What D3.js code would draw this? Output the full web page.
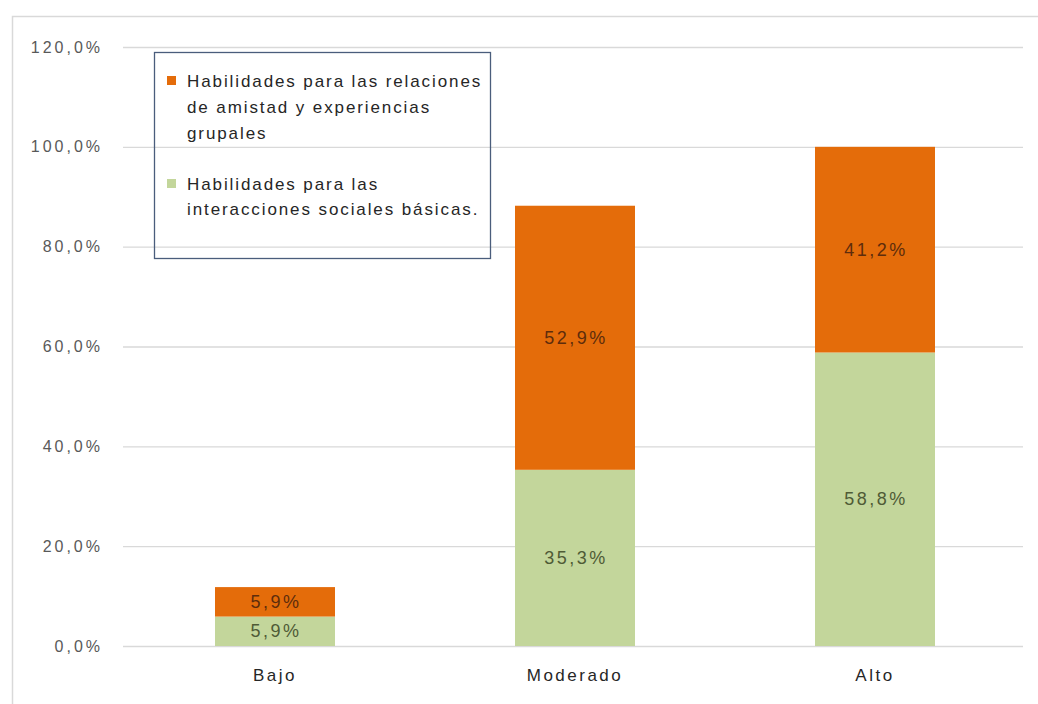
<!DOCTYPE html>
<html>
<head>
<meta charset="utf-8">
<script src="https://cdn.jsdelivr.net/npm/d3@7"></script>
<style>
  html, body { margin: 0; padding: 0; background: #fff; }
  svg { display: block; font-family: "Liberation Sans", Arial, sans-serif; }
</style>
</head>
<body>
<svg id="chart" width="1038" height="704"></svg>
<script>
// ---- data ----
const categories = ["Bajo", "Moderado", "Alto"];
const basicas = [0.059, 0.353, 0.588];      // Habilidades para las interacciones sociales básicas.
const amistad = [0.059, 0.529, 0.412];      // Habilidades para las relaciones de amistad y experiencias grupales
const yTicks = [0, 0.2, 0.4, 0.6, 0.8, 1.0, 1.2];
const seriesNames = ["basicas", "amistad"];
const legendLines = [
  ["Habilidades para las relaciones", "de amistad y experiencias", "grupales"],
  ["Habilidades para las", "interacciones sociales básicas."]
];

// ---- styles ----
const colors = { basicas: "#c3d69b", amistad: "#e46c0a" };
const labelColors = { basicas: "#4f5b36", amistad: "#5e2c0c" };

const svg = d3.select("#chart");

// outer chart frame
svg.append("rect")
  .attr("x", 12.5).attr("y", 16.5)
  .attr("width", 1200).attr("height", 900)
  .attr("fill", "none").attr("stroke", "#d9d9d9").attr("stroke-width", 1.5);

const x = d3.scaleBand().domain(categories).range([125, 1025]).paddingInner(0.6).paddingOuter(0.3);
const y = d3.scaleLinear().domain([0, 1.2]).range([646, 47]);

const fmt = v => d3.format(".1f")(v * 100).replace(".", ",") + "%";

// gridlines + y labels
const yAxis = svg.append("g")
  .attr("transform", "translate(123,0)")
  .call(d3.axisLeft(y).tickValues(yTicks).tickSize(-900).tickPadding(20).tickFormat(fmt));
yAxis.select(".domain").remove();
yAxis.selectAll(".tick line").attr("stroke", "#d9d9d9").attr("stroke-width", 1.3);
yAxis.selectAll(".tick text")
  .attr("fill", "#595959")
  .style("font-size", "16px")
  .style("letter-spacing", "3px");

// stacked data
const table = categories.map((c, i) => ({ cat: c, basicas: basicas[i], amistad: amistad[i] }));
const stack = d3.stack().keys(seriesNames)(table);

const layers = svg.append("g").selectAll("g").data(stack).join("g")
  .attr("fill", d => colors[d.key]);
layers.selectAll("rect").data(d => d).join("rect")
  .attr("x", d => x(d.data.cat))
  .attr("width", x.bandwidth())
  .attr("y", d => y(d[1]))
  .attr("height", d => y(d[0]) - y(d[1]));

// value labels
const lab = svg.append("g").selectAll("g").data(stack).join("g")
  .attr("fill", d => labelColors[d.key]);
lab.selectAll("text").data(d => d).join("text")
  .attr("x", d => x(d.data.cat) + x.bandwidth() / 2 + 1)
  .attr("y", d => y((d[0] + d[1]) / 2))
  .attr("text-anchor", "middle")
  .attr("dominant-baseline", "central")
  .style("font-size", "18px")
  .style("letter-spacing", "2.5px")
  .text(d => fmt(d[1] - d[0]));

// x axis labels
const xAxis = svg.append("g")
  .attr("transform", "translate(0,646)")
  .call(d3.axisBottom(x).tickSize(0).tickPadding(23));
xAxis.select(".domain").remove();
xAxis.selectAll(".tick text")
  .attr("fill", "#262626")
  .style("font-size", "17px")
  .style("letter-spacing", "2.5px");

// legend (transparent box)
const legend = svg.append("g");
legend.append("rect")
  .attr("x", 154.5).attr("y", 52.5).attr("width", 336).attr("height", 206)
  .attr("fill", "none").attr("stroke", "#4a5d7c").attr("stroke-width", 1.3);
const legendY = [[81, 107, 133], [184, 209]];
const legendKeys = ["amistad", "basicas"];
legendKeys.forEach((k, i) => {
  legend.append("rect")
    .attr("x", 167).attr("y", legendY[i][0] - 5).attr("width", 9).attr("height", 9)
    .attr("fill", colors[k]);
  legendLines[i].forEach((line, j) => {
    legend.append("text")
      .attr("x", 187).attr("y", legendY[i][j])
      .attr("dominant-baseline", "central")
      .attr("fill", "#262626")
      .style("font-size", "17px")
      .style("letter-spacing", "1.9px")
      .text(line);
  });
});
</script>
</body>
</html>
